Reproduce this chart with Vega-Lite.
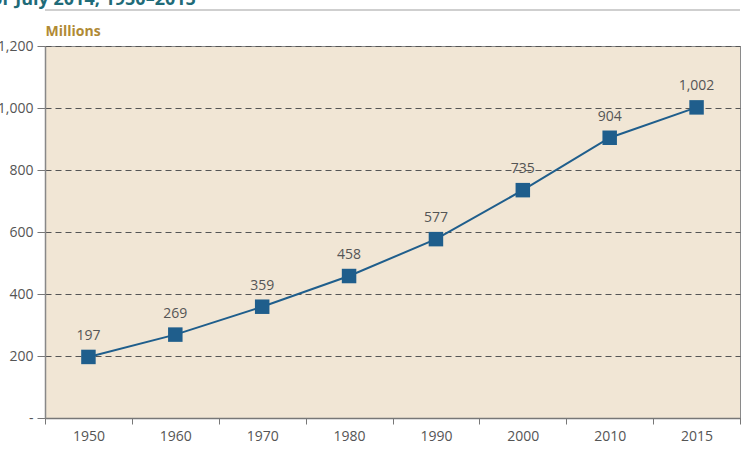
{
  "$schema": "https://vega.github.io/schema/vega-lite/v6.json",
  "width": 695,
  "height": 372,
  "autosize": {"type": "none"},
  "padding": {"left": 45, "top": 46, "right": 4, "bottom": 32},
  "background": "white",
  "title": {
    "text": "for July 2014, 1950–2015",
    "anchor": "start",
    "font": "Open Sans",
    "fontSize": 18,
    "fontWeight": "bold",
    "color": "#1f6b78",
    "dx": -13,
    "dy": 0,
    "offset": 0
  },
  "config": {
    "view": {"fill": "#f1e6d5", "stroke": "#8a8a8a", "strokeWidth": 1},
    "font": "Open Sans"
  },
  "data": {
    "values": [
      {"year": "1950", "value": 197},
      {"year": "1960", "value": 269},
      {"year": "1970", "value": 359},
      {"year": "1980", "value": 458},
      {"year": "1990", "value": 577},
      {"year": "2000", "value": 735},
      {"year": "2010", "value": 904},
      {"year": "2015", "value": 1002}
    ]
  },
  "encoding": {
    "x": {
      "field": "year",
      "type": "ordinal",
      "scale": {"paddingInner": 0, "paddingOuter": 0},
      "axis": {
        "title": null,
        "labelAngle": 0,
        "labelFont": "Open Sans",
        "labelFontSize": 14,
        "labelColor": "#555555",
        "labelPadding": 5,
        "tickBand": "extent",
        "tickColor": "#777777",
        "tickSize": 6,
        "domainColor": "#777777",
        "domainWidth": 1.5,
        "grid": false
      }
    },
    "y": {
      "field": "value",
      "type": "quantitative",
      "scale": {"domain": [0, 1200]},
      "axis": {
        "values": [0, 200, 400, 600, 800, 1000, 1200],
        "labelExpr": "datum.value == 0 ? '-' : format(datum.value, ',')",
        "labelFont": "Open Sans",
        "labelFontSize": 14,
        "labelColor": "#555555",
        "labelPadding": 4,
        "tickColor": "#777777",
        "tickSize": 8,
        "domainColor": "#888888",
        "domainWidth": 1.5,
        "grid": true,
        "gridColor": "#555555",
        "gridDash": [6, 4],
        "gridWidth": 1,
        "title": "Millions",
        "titleAngle": 0,
        "titleAlign": "left",
        "titleBaseline": "bottom",
        "titleX": 0,
        "titleY": -8,
        "titleFont": "Open Sans",
        "titleFontSize": 14,
        "titleFontWeight": "bold",
        "titleColor": "#b08a35"
      }
    }
  },
  "layer": [
    {
      "data": {"values": [{"line": 1316}]},
      "mark": {"type": "rule", "color": "#cfcfcf", "strokeWidth": 2},
      "encoding": {"x": null, "y": {"field": "line", "type": "quantitative"}}
    },
    {"mark": {"type": "line", "color": "#1f5e8c", "strokeWidth": 2}},
    {"mark": {"type": "square", "color": "#1f5e8c", "size": 210, "opacity": 1, "filled": true}},
    {
      "mark": {"type": "text", "dy": -21, "fontSize": 14, "color": "#555555", "font": "Open Sans"},
      "encoding": {"text": {"field": "value", "type": "quantitative", "format": ","}}
    }
  ]
}
